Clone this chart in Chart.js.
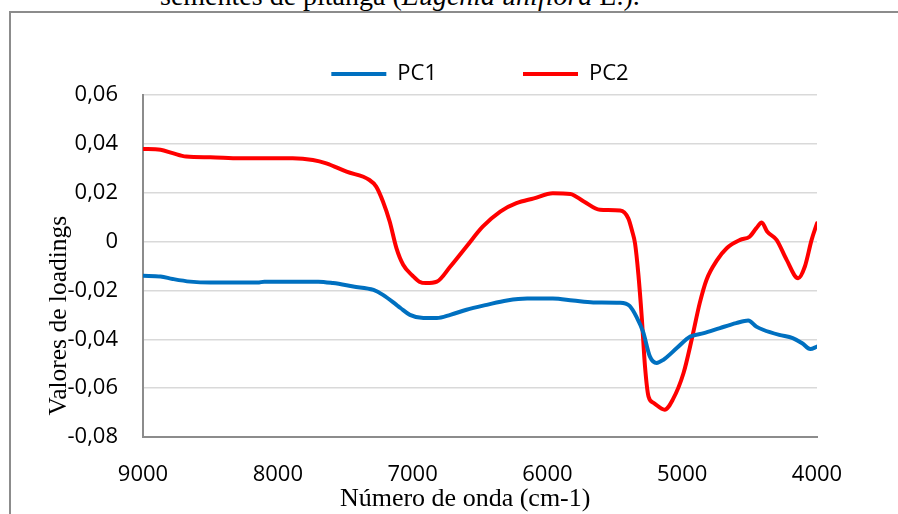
<!DOCTYPE html>
<html>
<head>
<meta charset="utf-8">
<script src="https://cdn.jsdelivr.net/npm/chart.js@4.4.0/dist/chart.umd.min.js"></script>
<style>
  html, body { margin: 0; padding: 0; background: #fff; }
  body { width: 898px; height: 514px; position: relative; overflow: hidden; }
  #caption {
    position: absolute; left: 160px; top: -18px;
    font: 28px/28px "Liberation Serif", "Times New Roman", serif;
    color: #000; white-space: nowrap;
  }
  #frame {
    position: absolute; left: 9px; top: 11px; width: 920px; height: 540px;
    border-left: 2px solid #8c8c8c; border-top: 2px solid #8c8c8c;
  }
  #wrap { position: absolute; left: 0; top: -23px; width: 898px; height: 537px; }
</style>
</head>
<body>
<div id="caption">sementes de pitanga (<i>Eugenia uniflora</i> L.).</div>
<div id="frame"></div>
<div id="wrap"><canvas id="loadingsChart"></canvas></div>
<script>
// PC1 loadings (wavenumber in cm-1)
const pc1Wave = [9000, 8870, 8780, 8650, 8500, 8150, 8100, 7700, 7590, 7440, 7290, 7220, 7120, 7090,
  7020, 6920, 6820, 6720, 6600, 6450, 6300, 6150, 5960, 5810, 5660, 5460, 5390, 5340, 5290, 5240,
  5190, 5140, 5040, 4940, 4840, 4720, 4600, 4510, 4450, 4400, 4280, 4180, 4110, 4050, 4000];
const pc1Values = [-0.0140, -0.0143, -0.0153, -0.0164, -0.0168, -0.0168, -0.0164, -0.0164, -0.0170,
  -0.0184, -0.0198, -0.0218, -0.0259, -0.0272, -0.0300, -0.0313, -0.0313, -0.0300, -0.0279, -0.0259,
  -0.0241, -0.0233, -0.0233, -0.0241, -0.0249, -0.0250, -0.0263, -0.0307, -0.0370, -0.0470, -0.0497,
  -0.0484, -0.0436, -0.0389, -0.0375, -0.0354, -0.0334, -0.0323, -0.0348, -0.0361, -0.0382, -0.0395,
  -0.0416, -0.0440, -0.0430];

// PC2 loadings
const pc2Wave = [9000, 8870, 8780, 8680, 8500, 8280, 7890, 7740, 7640, 7490, 7320, 7270, 7220, 7170,
  7120, 7070, 7000, 6950, 6900, 6820, 6720, 6600, 6480, 6350, 6230, 6100, 5960, 5830, 5730, 5610,
  5460, 5400, 5370, 5350, 5325, 5300, 5276, 5250, 5210, 5130, 5070, 4990, 4930, 4870, 4820, 4740,
  4670, 4570, 4500, 4450, 4410, 4370, 4300, 4225, 4140, 4090, 4040, 4000];
const pc2Values = [0.0379, 0.0376, 0.0362, 0.0348, 0.0345, 0.0341, 0.0341, 0.0334, 0.0320, 0.0286,
  0.0252, 0.0225, 0.0164, 0.0082, -0.0027, -0.0095, -0.0140, -0.0164, -0.0170, -0.0164, -0.0102,
  -0.0020, 0.0061, 0.0123, 0.0157, 0.0177, 0.0198, 0.0195, 0.0164, 0.0130, 0.0127, 0.0095, 0.0040,
  -0.0007, -0.0135, -0.0310, -0.0511, -0.0634, -0.0661, -0.0688, -0.0647, -0.0538, -0.0402, -0.0252,
  -0.0157, -0.0075, -0.0027, 0.0007, 0.0020, 0.0055, 0.0078, 0.0041, 0.0007, -0.0075, -0.0150,
  -0.0102, 0.0007, 0.0075];

const seriesNames = ["PC1", "PC2"];
const xTicks = [9000, 8000, 7000, 6000, 5000, 4000];
const xTitle = "Número de onda (cm-1)";
const yTitle = "Valores de loadings";

const toPoints = (xs, ys) => xs.map((x, i) => ({ x: x, y: ys[i] }));

const sansFont = "'Open Sans', 'Liberation Sans', sans-serif";
const serifFont = "'Liberation Serif', 'Times New Roman', serif";

// axis titles sit a bit off-centre in the original, so draw them by hand
const axisTitlePlugin = {
  id: "axisTitles",
  afterDraw(chart) {
    const { ctx, chartArea } = chart;
    ctx.save();
    ctx.fillStyle = "#000";
    ctx.textAlign = "center";
    ctx.textBaseline = "middle";

    ctx.font = "26px " + serifFont;
    ctx.fillText(xTitle, chartArea.left + (chartArea.right - chartArea.left) * 0.478, chartArea.bottom + 62);

    ctx.translate(59, chartArea.top + (chartArea.bottom - chartArea.top) * 0.645);
    ctx.rotate(-Math.PI / 2);
    ctx.font = "25.5px " + serifFont;
    ctx.fillText(yTitle, 0, 0);
    ctx.restore();
  }
};

new Chart(document.getElementById("loadingsChart"), {
  type: "line",
  data: {
    datasets: [
      {
        label: seriesNames[0],
        data: toPoints(pc1Wave, pc1Values),
        borderColor: "#0070C0",
        backgroundColor: "#0070C0",
        borderWidth: 4,
        pointRadius: 0,
        cubicInterpolationMode: "monotone",
        borderCapStyle: "round"
      },
      {
        label: seriesNames[1],
        data: toPoints(pc2Wave, pc2Values),
        borderColor: "#FF0000",
        backgroundColor: "#FF0000",
        borderWidth: 4,
        pointRadius: 0,
        cubicInterpolationMode: "monotone",
        borderCapStyle: "round"
      }
    ]
  },
  options: {
    responsive: true,
    maintainAspectRatio: false,
    animation: false,
    layout: { padding: { left: 12, right: 81, top: 0, bottom: 0 } },
    plugins: {
      legend: {
        position: "top",
        fullSize: false,
        labels: {
          usePointStyle: true,
          pointStyle: "line",
          pointStyleWidth: 55,
          padding: 86,
          color: "#000",
          font: { family: sansFont, size: 22 }
        }
      },
      tooltip: { enabled: false }
    },
    scales: {
      x: {
        type: "linear",
        reverse: true,
        min: 4000,
        max: 9000,
        afterFit: (scale) => { scale.height = 77; },
        afterBuildTicks: (scale) => { scale.ticks = xTicks.map((v) => ({ value: v })); },
        grid: { display: false, drawTicks: false },
        border: { display: true, color: "#8c8c8c", width: 2 },
        ticks: {
          padding: 25,
          maxRotation: 0,
          autoSkip: false,
          color: "#000",
          font: { family: sansFont, size: 22 },
          callback: (v) => String(v)
        }
      },
      y: {
        min: -0.08,
        max: 0.06,
        afterFit: (scale) => { scale.width = 131; },
        grid: { color: "#d9d9d9", lineWidth: 1.5, drawTicks: false },
        border: { display: true, color: "#8c8c8c", width: 2 },
        ticks: {
          stepSize: 0.02,
          padding: 25,
          color: "#000",
          font: { family: sansFont, size: 22 },
          callback: (v) => Math.abs(v) < 1e-9 ? "0" : v.toFixed(2).replace(".", ",")
        }
      }
    }
  },
  plugins: [axisTitlePlugin]
});
</script>
</body>
</html>
